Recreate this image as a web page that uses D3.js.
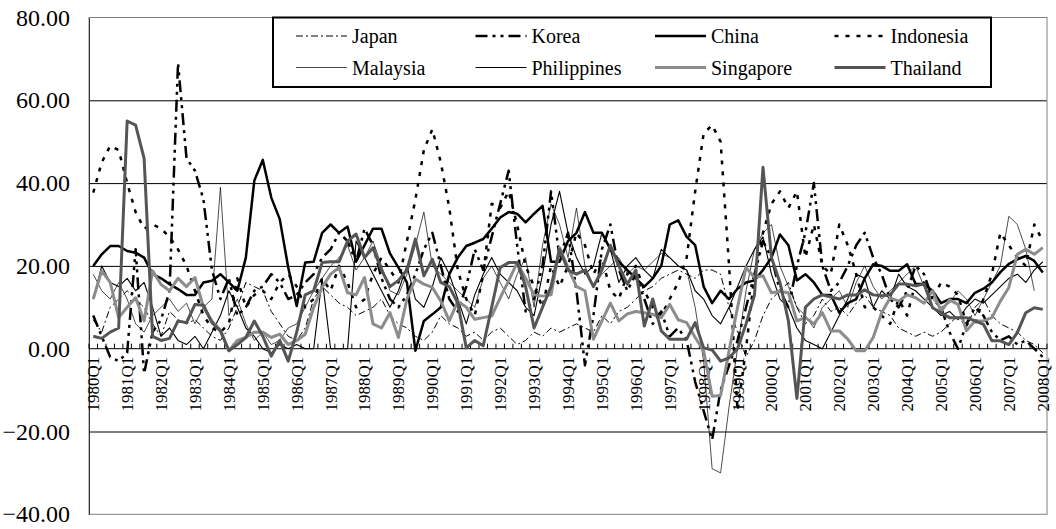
<!DOCTYPE html>
<html lang="en">
<head>
  <meta charset="UTF-8">
  <title>Export growth, East Asia</title>
  <script src="https://d3js.org/d3.v7.min.js"></script>
  <style>
    body { margin: 0; background: #fff; }
    svg, svg text { font-family: "Liberation Serif", "DejaVu Serif", serif; }
    svg text { fill: #000; }
  </style>
</head>
<body>

  <script>
    ((window, document) => {
      "use strict";

      /**
       * -----------------------------------------------------------------------
       *  Data  (quarterly, 1980Q1 - 2008Q1, one row per year)
       * -----------------------------------------------------------------------
       */

      const years = [1980, 1981, 1982, 1983, 1984, 1985, 1986, 1987, 1988, 1989,
                     1990, 1991, 1992, 1993, 1994, 1995, 1996, 1997, 1998, 1999,
                     2000, 2001, 2002, 2003, 2004, 2005, 2006, 2007, 2008];
      const quarterNames = ["Q1", "Q2", "Q3", "Q4"];
      const yTicks = [-40, -20, 0, 20, 40, 60, 80];

      const japan = [
        7, 4, 10, 12,  14, 12, 10, 6,  3, 9, 7, 6,  7, 5, 3, 2,  5, 10, 16, 15,
        14, 9, 6, 3,  2, 5, 12, 15,  13, 11, 10, 8,  9, 10, 12, 8,  6, 5, 3, 2,
        4, 8, 6, 5,  3, 4, 2, 4,  5, 3, 1, 2,  4, 3, 5, 4,  5, 6, 5, 4,
        8, 6, 9, 10,  12, 14, 15, 17,  18, 19, 18, 17,  19, 19, 18, 10,  4, -2, 2, 8,
        12, 14, 16, 10,  6, 8, 12, 9,  10, 8, 11, 13,  10, 9, 8, 5,  4, 3, 4, 3,
        4, 6, 8, 5,  10, 12, 8, 6,  5, 4, 2, 1,  -1
      ];
      const korea = [
        8, 3, -2, -3,  -1, 24, -6, 4,  7, 14, 69, 46,  43, 36, 19, 12,  17, 8, 10, 14,
        15, 18, 16, 12,  13, 16, 18, 22,  24, 28, 26, 21,  29, 25, 17, 12,  10, 13, 18, 24,
        28, 20, 12, 9,  15, 24, 19, 27,  35, 43, 25, 9,  12, 20, 38, 22,  28, 14, -4, 8,
        24, 30, 19, 14,  18, 12, 6, 9,  3, 5, 2, -8,  -15, -22, -10, -4,  2, 10, 18, 26,
        22, 14, 10, 20,  28, 40, 20, 14,  16, 20, 25, 28,  22, 18, 12, 10,  14, 20, 18, 12,
        10, 4, 0, 6,  10, 8, 4, 2,  3, 1, 2, 0,  -2
      ];
      const china = [
        20, 22.8, 24.8, 24.8,  23.6, 23.2, 22, 18,  17, 15.6, 14.4, 13,  13, 16, 16.4, 18,  16, 14, 22, 40.6,
        45.6, 36.5, 31.3, 19.6,  10.3, 20.8, 21, 28,  30, 28, 29.5, 21,  25, 29, 29, 23,  19.6, 16, -0.5, 6.7,
        8.3, 10, 18, 22,  24.8, 25.6, 26.5, 29,  31.7, 33, 32.6, 30.5,  32.6, 34.5, 21, 21,  26, 28, 33, 28,
        28, 24, 21, 19,  17, 15, 17, 20,  30, 31, 27, 25,  15, 11, 14, 12,  14.5, 16, 16.5, 19,
        22, 27.6, 25, 16.5,  18, 16, 13, 13,  8.7, 11, 12, 17,  20.4, 20, 18.8, 18.8,  20.4, 15.6, 15.6, 14,
        11, 12, 12, 11,  13.5, 14.5, 16, 18.5,  20.5, 21.6, 22.4, 21.2,  18.4
      ];
      const indonesia = [
        37.7, 45, 49, 48,  40, 33, 29, 30,  29, 27, 24, 20,  14, 8, 5, 4,  6, 17, 10, 13,
        14, 12, 16, 18,  15, 10, 12, 17,  14, 20, 16, 10,  12, 18, 22, 19,  16, 26, 36, 48,
        53, 45, 34, 19,  12, 8, 18, 35,  34, 38, 30, 20,  15, 10, 20, 15,  20, 28, 25, 18,
        22, 14, 12, 18,  20, 14, 10, 8,  12, 16, 22, 38,  52, 54, 50, 20,  -15, 0, 18, 28,
        35, 38, 34, 38,  22, 30, 20, 18,  30, 25, 18, 10,  10, 8, 6, 12,  8, 16, 16, 12,
        16, 15, 13, 6,  6, 12, 18, 28,  25, 22, 20, 30,  26
      ];
      const malaysia = [
        18, 14, 12, 16,  12, 6, 4, 8,  10, 12, 9, 11,  6, 10, 12, 39,  8, 12, 6, 2,
        4, 1, 2, 5,  6, 10, 14, 17,  20, 22, 25, 19,  22, 26, 20, 14,  13, 18, 25, 33,
        20, 18, 16, 14,  12, 10, 17, 20,  16, 12, 18, 22,  10, 25, 35, 30,  22, 34, 20, 15,
        18, 20, 22, 18,  20, 19, 21, 23,  22, 20, 19, 10,  -3, -29, -30, -14,  0, 14, 24, 28,
        30, 20, 15, 10,  8, 5, 10, 12,  14, 10, 16, 20,  15, 12, 14, 16,  18, 20, 15, 12,
        10, 11, 14, 12,  8, 12, 16, 20,  32, 30, 24, 14,  null
      ];
      const philippines = [
        12, 20, 16, 15,  17, 14, 16, 10,  3, 5, 2, 1,  3, 0, 4, 8,  14, 10, 5, 3,
        0, -1, 1, 0,  1, 0, 0, 17,  0, 0, 0, 26,  22, 18, 14, 10,  14, 20, 12, 10,
        15, 22, 18, 12,  6, 13, 18, 22,  18, 16, 14, 10,  8, 18, 30, 38,  28, 22, 18, 20,
        28, 24, 16, 20,  22, 19, 17, 24,  22, 20, 19, 14,  12, 8, 6, 10,  15, 20, 24, 27,
        18, 12, 10, 5,  2, 1, 0, 4,  8, 12, 18, 17,  10, 14, 12, 18,  15, 14, 12, 10,
        8, 9, 7, 10,  12, 11, 13, 15,  17, 18, 16, 19,  21
      ];
      const singapore = [
        12, 18.8, 16, 7.5,  10, 12.3, 6.7, 18.8,  15.5, 14, 17, 15,  17.2, 10, 6.7, 4.5,  -0.5, 2, 2.7, 4,
        4, 2.7, 3.5, 1,  2, 3.5, 10, 14.8,  18, 19.6, 13.5, 13,  17.2, 6, 5, 8.7,  2.7, 12, 16.8, 15.6,
        14.8, 11.5, 6.7, 11.5,  10, 7.1, 7.5, 7.9,  12.3, 16.4, 20.8, 17,  13, 12.7, 13, 24.4,  19.6, 15, 14, 2.3,
        6.7, 11, 6.7, 8.4,  9, 8.7, 8.3, 7.5,  10.7, 7, 6.3, 2.7,  -0.5, -11.5, -11.3, -0.5,  10, 19.6, 17.2, 17.6,
        13.5, 13.8, 13.5, 6.7,  7.5, 6, 8.7, 4.3,  4.3, 2.3, -0.5, -0.5,  2.7, 8.7, 12.3, 11.5,  13, 12.3, 11, 14,
        9, 11.8, 10.7, 4.3,  6.7, 6.7, 7.5, 11.5,  14.8, 22.8, 24, 22.8,  24.4
      ];
      const thailand = [
        3, 2.5, 4, 5,  55, 54, 46, 3,  2, 2.5, 6.7, 6.3,  10.7, 10.5, 6.3, 4.3,  -0.5, 1, 2.7, 6.7,
        3, -1.8, 2, -3,  4, 13, 14, 20.8,  21, 21, 26, 27.7,  22, 24.4, 19, 15,  16.5, 19, 26.5, 17.6,
        21.6, 16, 15, 11,  0.2, 2, 0.7, 10,  19.6, 20.8, 20.8, 15,  5, 10, 15, 24,  19, 18, 19, 15,
        19, 25, 20, 15.6,  19, 5.5, 12, 4.3,  2.3, 2.3, 2.3, 6.3,  0.2, -0.3, -3, -2.2,  0, 6, 13, 43.8,
        22, 16, 6.7, -12,  10, 12, 13, 12.5,  12, 13, 13, 14.2,  13, 12.8, 13, 15.6,  15.6, 15.2, 15.6, 9.9,
        8.7, 7.5, 7.5, 7.5,  6.7, 5.9, 1.9, 1.9,  1, 3.9, 8.7, 9.9,  9.5
      ];

      const series = [
        { name: "Japan",       values: japan,       color: "#000",    width: 1,   dash: "7,3,2,3" },
        { name: "Korea",       values: korea,       color: "#000",    width: 2.5, dash: "12,5,3,5,3,5" },
        { name: "China",       values: china,       color: "#000",    width: 2.5, dash: null },
        { name: "Indonesia",   values: indonesia,   color: "#000",    width: 2.5, dash: "4,7" },
        { name: "Malaysia",    values: malaysia,    color: "#000",    width: 0.7, dash: null },
        { name: "Philippines", values: philippines, color: "#000",    width: 1.1, dash: null },
        { name: "Singapore",   values: singapore,   color: "#8c8c8c", width: 3,   dash: null },
        { name: "Thailand",    values: thailand,    color: "#555555", width: 3,   dash: null },
      ];

      const quarters = years.flatMap(y => quarterNames.map(q => y + q)).slice(0, japan.length);


      /**
       * -----------------------------------------------------------------------
       *  Render
       * -----------------------------------------------------------------------
       */

      const FONT = "'Liberation Serif', 'DejaVu Serif', serif";
      const left = 89, right = 1047, top = 17.5, bottom = 514.3;

      const svg = d3.select("body").append("svg")
        .attr("width", 1056).attr("height", 529)
        .style("font-family", FONT);

      const x = d3.scalePoint()
        .domain(d3.range(quarters.length))
        .range([left, right])
        .padding(0.5);
      const y = d3.scaleLinear().domain([-40, 80]).range([bottom, top]);
      const step = x.step();

      // gridlines (black inside, plot border gray)
      svg.append("g")
        .attr("transform", `translate(${left},0)`)
        .call(d3.axisLeft(y).tickValues([-20, 20, 40, 60])
          .tickSize(-(right - left)).tickFormat(""))
        .call(g => g.select(".domain").remove())
        .call(g => g.selectAll("line").attr("stroke", "#000").attr("stroke-width", 1));

      svg.append("rect")
        .attr("x", left).attr("y", top)
        .attr("width", right - left).attr("height", bottom - top)
        .attr("fill", "none").attr("stroke", "#808080");

      // y axis
      svg.append("g")
        .attr("transform", `translate(${left},0)`)
        .call(d3.axisLeft(y).tickValues(yTicks).tickFormat(d3.format(".2f"))
          .tickSize(0).tickPadding(19))
        .call(g => g.attr("font-family", null))
        .call(g => g.select(".domain").attr("stroke", "#333"))
        .call(g => g.selectAll("text")
          .style("font-family", FONT).style("font-size", "24px"));

      // category axis at zero
      const xAxis = svg.append("g").attr("transform", `translate(0,${y(0)})`);
      xAxis.append("line")
        .attr("x1", left).attr("x2", right)
        .attr("stroke", "#000");
      xAxis.selectAll("line.tick")
        .data(d3.range(quarters.length + 1))
        .enter().append("line")
          .attr("class", "tick")
          .attr("x1", i => left + i * step).attr("x2", i => left + i * step)
          .attr("y1", 0).attr("y2", -5)
          .attr("stroke", "#000");
      xAxis.selectAll("text")
        .data(d3.range(0, quarters.length, 4))
        .enter().append("text")
          .attr("transform", i => `translate(${x(i)},8) rotate(-90)`)
          .attr("dy", "0.35em")
          .attr("text-anchor", "end")
          .style("font-family", FONT)
          .style("font-size", "17px")
          .text(i => quarters[i]);

      // series
      const line = d3.line()
        .defined(d => d != null)
        .x((d, i) => x(i))
        .y(d => y(d));

      svg.append("g").selectAll("path")
        .data(series)
        .enter().append("path")
          .attr("d", s => line(s.values))
          .attr("fill", "none")
          .attr("stroke", s => s.color)
          .attr("stroke-width", s => s.width)
          .attr("stroke-dasharray", s => s.dash)
          .attr("stroke-linejoin", "round");

      // legend
      const legend = svg.append("g");
      legend.append("rect")
        .attr("x", 273).attr("y", top).attr("width", 718).attr("height", 69.5)
        .attr("fill", "#fff").attr("stroke", "#000").attr("stroke-width", 2);

      const items = legend.selectAll("g.item")
        .data(series)
        .enter().append("g")
          .attr("class", "item")
          .attr("transform", (d, i) => `translate(${296 + (i % 4) * 179.5},${i < 4 ? 36 : 67.5})`);
      items.append("line")
        .attr("x1", 0).attr("x2", 51)
        .attr("stroke", s => s.color)
        .attr("stroke-width", s => s.width)
        .attr("stroke-dasharray", s => s.dash);
      items.append("text")
        .attr("x", 56).attr("dy", "0.35em")
        .style("font-family", FONT)
        .style("font-size", "20px")
        .text(s => s.name);

    })(window, document);
  </script>

</body>
</html>
